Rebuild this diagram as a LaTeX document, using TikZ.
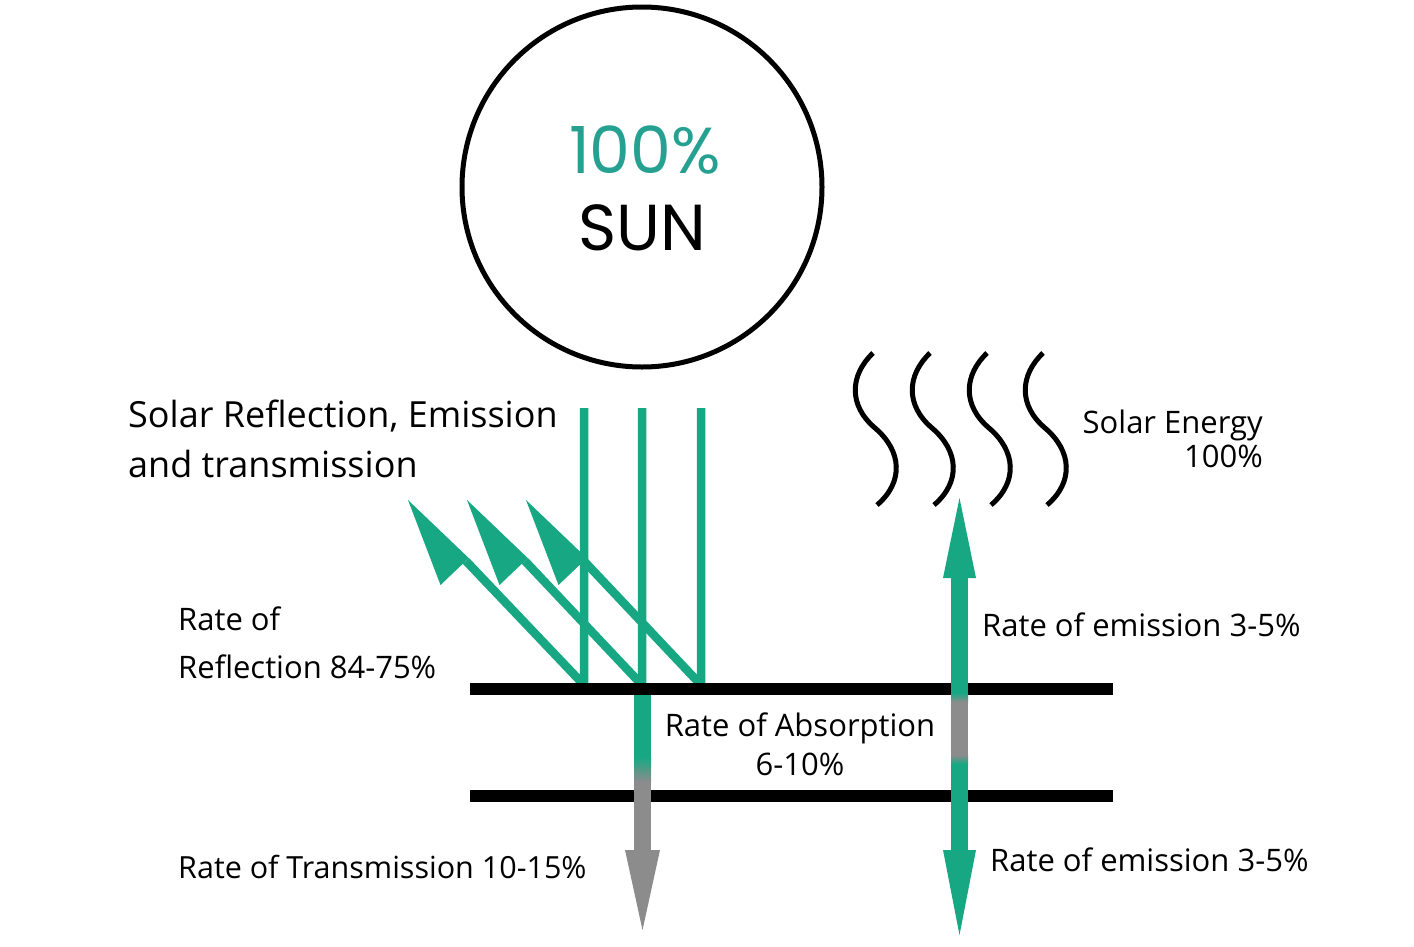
\documentclass[tikz,border=0pt]{standalone}
\usepackage{fontspec}
\setmainfont{Open Sans}
\newfontfamily\sunfont{Poppins}
\usepackage{xcolor}
\usepackage{tikz}
\usetikzlibrary{calc}
\definecolor{raygreen}{RGB}{23,168,131}
\definecolor{sunteal}{RGB}{38,161,145}
\definecolor{raygray}{RGB}{140,140,140}
\tikzstyle{ray} = [draw=raygreen, line width=8.5pt, line join=bevel]
\tikzstyle{wave} = [draw=black, line width=5pt]
\tikzstyle{layer} = [draw=black, line width=12pt]

\begin{document}
\begin{tikzpicture}[
    x=1pt, y=-1pt,
    ratetext/.style={
        inner sep=0pt,
        anchor=base west,
        align=left,
        font=\fontsize{31}{48}\selectfont
    },
    suntext/.style={
        inner sep=0pt,
        anchor=base,
        font=\sunfont\fontsize{65}{65}\selectfont
    }
]
    \fill[white] (0,0) rectangle (1414,946);
    \useasboundingbox (0,0) rectangle (1414,946);

    % the sun
    \node[circle, draw, line width=5pt, minimum size=360pt, inner sep=0pt] (sun) at (642,187) {};
    \node[suntext, text=sunteal] (sunpct) at (645,173) {100\%};
    \node[suntext] (sunname) at (642,250) {SUN};

    % incoming rays and their reflections
    \coordinate (b1) at (584,685);
    \coordinate (b2) at (642,685);
    \coordinate (b3) at (701,685);
    \coordinate (t1) at (408,500);
    \coordinate (t2) at (467,500);
    \coordinate (t3) at (526,500);
    \draw[ray] (584,408) -- (b1) -- ($(t1)+(57.9,60.9)$);
    \draw[ray] (642,408) -- (b2) -- ($(t2)+(57.9,60.9)$);
    \draw[ray] (701,408) -- (b3) -- ($(t3)+(57.9,60.9)$);
    \fill[raygreen] (t1) -- ++(32.5,85) -- ++(28.3,-26.9) -- cycle;
    \fill[raygreen] (t2) -- ++(32.5,85) -- ++(28.3,-26.9) -- cycle;
    \fill[raygreen] (t3) -- ++(32.5,85) -- ++(28.3,-26.9) -- cycle;

    % heat waves
    \draw[wave] (873,353) .. controls +(-23,22) and +(-27,-23) .. ++(2,75) .. controls +(27,23) and +(27,-23) .. ++(2,77);
    \draw[wave] (930,353) .. controls +(-23,22) and +(-27,-23) .. ++(2,75) .. controls +(27,23) and +(27,-23) .. ++(2,77);
    \draw[wave] (987,353) .. controls +(-23,22) and +(-27,-23) .. ++(2,75) .. controls +(27,23) and +(27,-23) .. ++(2,77);
    \draw[wave] (1043,353) .. controls +(-23,22) and +(-27,-23) .. ++(2,75) .. controls +(27,23) and +(27,-23) .. ++(2,77);

    % the two layers
    \coordinate (topleft) at (470,689);
    \coordinate (topright) at (1113,689);
    \coordinate (botleft) at (470,796);
    \coordinate (botright) at (1113,796);
    \draw[layer] (topleft) -- (topright);
    \draw[layer] (botleft) -- (botright);

    % transmission arrow
    \fill[raygreen] (634,695) rectangle (651,757);
    \shade[top color=raygreen, bottom color=raygray] (634,757) rectangle (651,782);
    \fill[raygray] (634,782) rectangle (651,851);
    \coordinate (transtip) at (642.5,930);
    \fill[raygray] (625,850) -- (660,850) -- (transtip) -- cycle;

    % emission arrow
    \coordinate (emitup) at (959.5,498);
    \coordinate (emitdown) at (959.5,935);
    \fill[raygreen] (943,578) -- (emitup) -- (976,578) -- cycle;
    \fill[raygreen] (951,577) rectangle (968,693);
    \shade[top color=raygreen, bottom color=raygray] (951,693) rectangle (968,702);
    \fill[raygray] (951,702) rectangle (968,755);
    \shade[top color=raygray, bottom color=raygreen] (951,755) rectangle (968,764);
    \fill[raygreen] (951,764) rectangle (968,851);
    \fill[raygreen] (943,850) -- (976,850) -- (emitdown) -- cycle;

    % labels
    \node[ratetext, font=\fontsize{36}{50}\selectfont] (title) at (128,477)
        {Solar Reflection, Emission\\and transmission};
    \node[ratetext] (reflect) at (178,678) {Rate of\\Reflection 84-75\%};
    \node[ratetext, anchor=base, align=center, font=\fontsize{31}{39}\selectfont] (absorb) at (800,775)
        {Rate of Absorption\\6-10\%};
    \node[ratetext, font=\fontsize{30.5}{48}\selectfont] (transmit) at (178,878) {Rate of Transmission 10-15\%};
    \node[ratetext] (emitout) at (982,636) {Rate of emission 3-5\%};
    \node[ratetext] (emitin) at (990,871) {Rate of emission 3-5\%};
    \node[ratetext, anchor=base east, align=right, font=\fontsize{31}{34}\selectfont] (energy) at (1263,467)
        {Solar Energy\\100\%};
\end{tikzpicture}
\end{document}
